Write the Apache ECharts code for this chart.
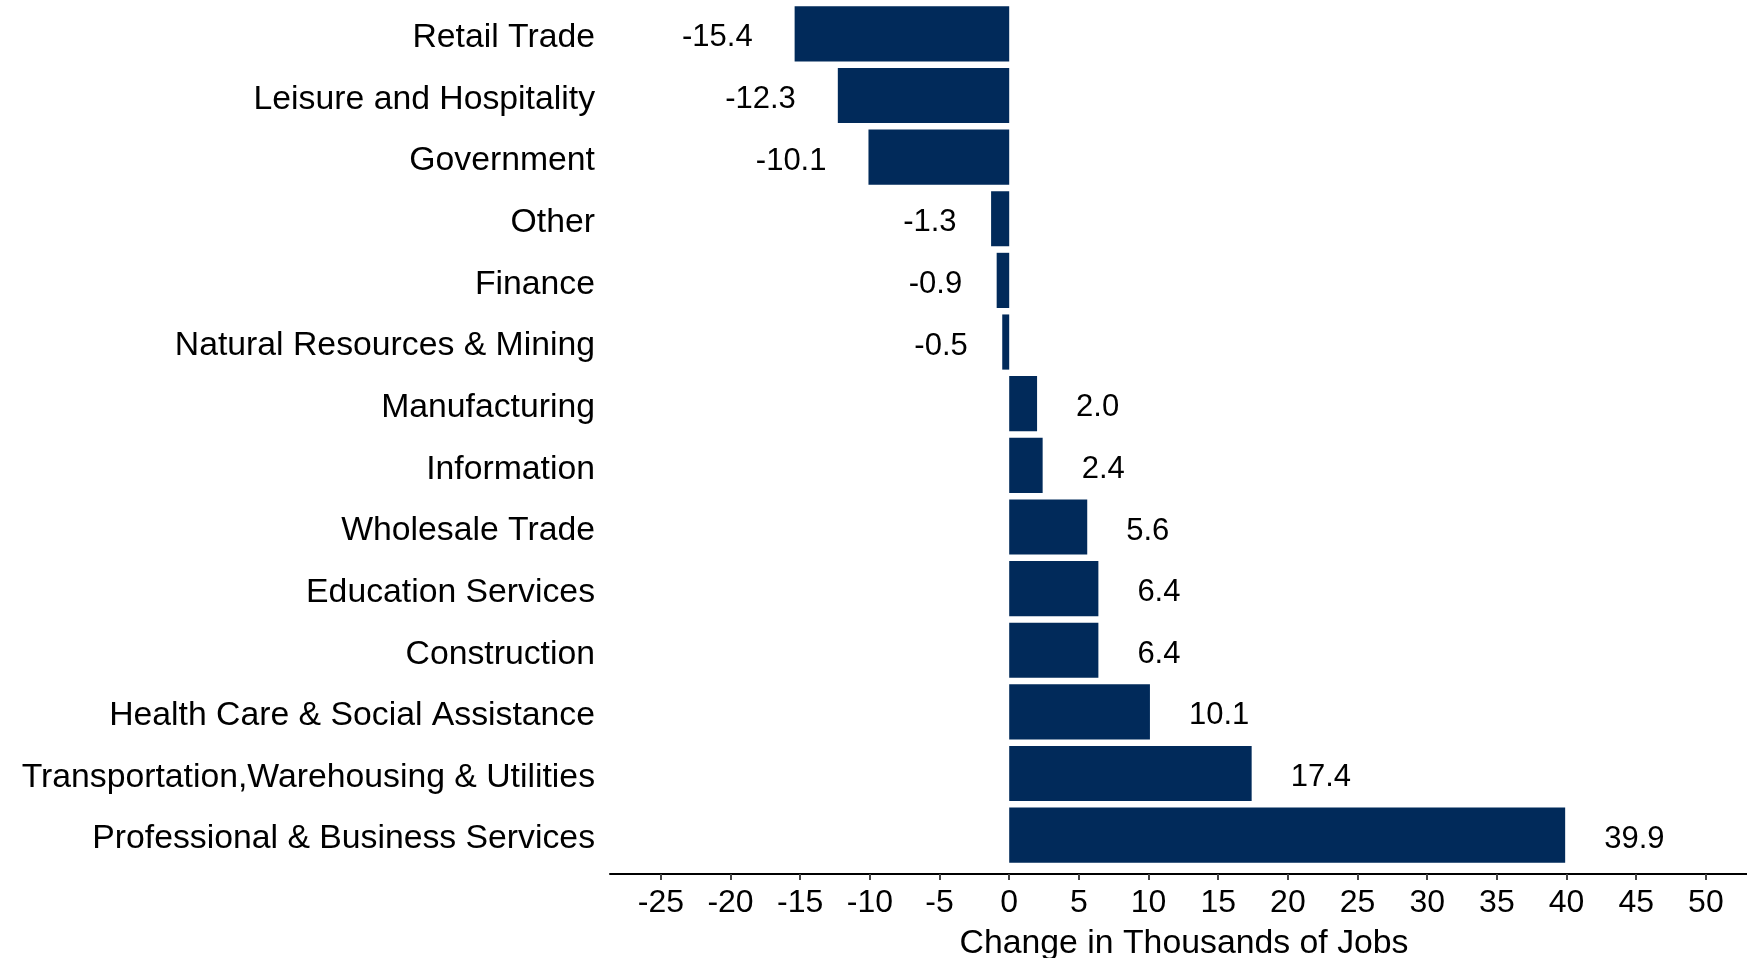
<!DOCTYPE html>
<html>
<head>
<meta charset="utf-8">
<script src="https://cdn.jsdelivr.net/npm/echarts@6/dist/echarts.min.js"></script>
<style>
html,body{margin:0;padding:0;background:#fff;}
#chart{width:1747px;height:958px;}
</style>
</head>
<body>
<div id="chart"></div>
<script>
const categories = [
  "Retail Trade",
  "Leisure and Hospitality",
  "Government",
  "Other",
  "Finance",
  "Natural Resources & Mining",
  "Manufacturing",
  "Information",
  "Wholesale Trade",
  "Education Services",
  "Construction",
  "Health Care & Social Assistance",
  "Transportation,Warehousing & Utilities",
  "Professional & Business Services"
];
const values = [-15.4, -12.3, -10.1, -1.3, -0.9, -0.5, 2.0, 2.4, 5.6, 6.4, 6.4, 10.1, 17.4, 39.9];
const tickValues = [-25, -20, -15, -10, -5, 0, 5, 10, 15, 20, 25, 30, 35, 40, 45, 50];
const axisTitle = "Change in Thousands of Jobs";

const FONT = "'Liberation Sans', Arial, sans-serif";
const chart = echarts.init(document.getElementById('chart'), null, {renderer: 'canvas'});

const barData = values.map(v => ({
  value: v,
  label: {
    position: v < 0 ? 'left' : 'right',
    distance: v < 0 ? (Math.abs(v) >= 10 ? 42 : 34.5) : 39
  }
}));

chart.setOption({
  animation: false,
  backgroundColor: '#ffffff',
  grid: { left: 610, right: 0, top: 3, bottom: 92, containLabel: false, outerBoundsMode: 'none' },
  xAxis: {
    type: 'value',
    min: -28.65,
    max: 52.95,
    offset: 8,
    splitLine: { show: false },
    axisLine: { show: true, onZero: false, lineStyle: { color: '#000', width: 2 } },
    axisTick: { show: true, customValues: tickValues, length: 6, lineStyle: { color: '#444', width: 2 } },
    axisLabel: {
      customValues: tickValues,
      color: '#000', fontFamily: FONT, fontSize: 32, margin: 13,
      formatter: v => String(v)
    },
    name: axisTitle,
    nameLocation: 'middle',
    nameGap: 53,
    nameTextStyle: { color: '#000', fontFamily: FONT, fontSize: 33.8, padding: [0, 0, 0, 11] }
  },
  yAxis: {
    type: 'category',
    data: categories,
    inverse: true,
    axisLine: { show: false },
    axisTick: { show: false },
    splitLine: { show: false },
    axisLabel: {
      color: '#000', fontFamily: FONT, fontSize: 33.75, margin: 15,
      formatter: v => '{a|' + v + '}',
      rich: { a: { color: '#000', fontFamily: FONT, fontSize: 33.75, padding: [8, 0, 0, 0] } }
    }
  },
  series: [{
    type: 'bar',
    data: barData,
    barCategoryGap: '10.5%',
    itemStyle: { color: '#012a5a' },
    label: {
      show: true,
      offset: [0, 4],
      color: '#000',
      fontFamily: FONT,
      fontSize: 31,
      formatter: p => p.value.toFixed(1)
    }
  }]
});
</script>
</body>
</html>
